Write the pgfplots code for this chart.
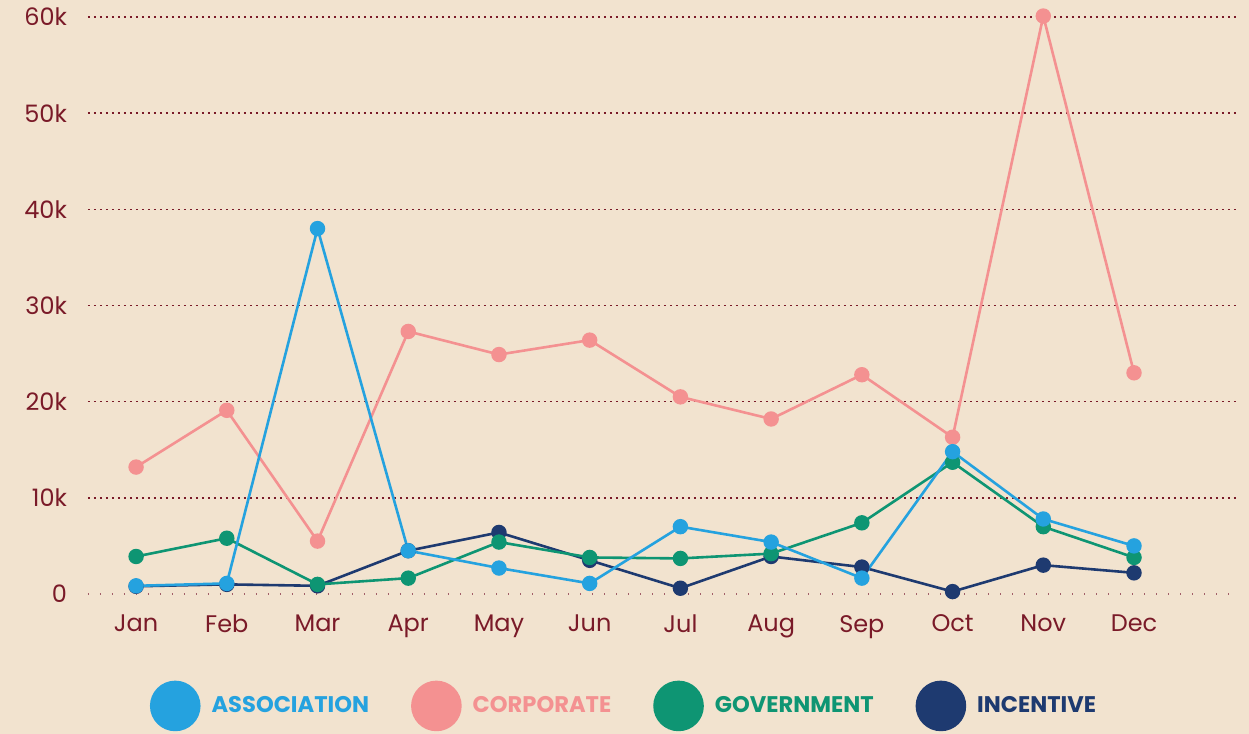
\documentclass[border=0pt]{standalone}
\usepackage{pgfplots}
\pgfplotsset{compat=1.18}
\usepackage{fontspec}
\setmainfont{Poppins}

\definecolor{bgc}{HTML}{F2E3CF}
\definecolor{tickc}{HTML}{7A1A28}
\definecolor{assoc}{HTML}{25A2DF}
\definecolor{corp}{HTML}{F49191}
\definecolor{gov}{HTML}{0E9573}
\definecolor{incent}{HTML}{1E3A70}

% months at 0..11, values in thousands
\pgfplotstableread{
x  assoc corp gov incent
0  0.85  13.2 3.9  0.8
1  1.1   19.1 5.8  1.0
2  38.0  5.5  1.0  0.85
3  4.5   27.3 1.65 4.5
4  2.7   24.9 5.4  6.4
5  1.1   26.4 3.8  3.5
6  7.0   20.5 3.7  0.6
7  5.4   18.2 4.2  3.9
8  1.65  22.8 7.4  2.8
9  14.8  16.3 13.7 0.25
10 7.8   60.1 7.0  3.0
11 5.0   23.0 3.8  2.2
}\datatable

\begin{document}
\begin{tikzpicture}
\path[use as bounding box, fill=bgc] (0,0) rectangle (624.5pt,367pt);
\begin{axis}[
  at={(44pt,70pt)}, anchor=south west,
  scale only axis, width=574.5pt, height=288.5pt,
  xmin=-0.53, xmax=12.135, ymin=0, ymax=60,
  clip=false,
  axis line style={draw=none},
  major tick length=0pt,
  xtick={0,...,11},
  xticklabels={Jan,Feb,Mar,Apr,May,Jun,Jul,Aug,Sep,Oct,Nov,Dec},
  ytick={10,20,...,60},
  yticklabels={10k,20k,30k,40k,50k,60k},
  extra y ticks={0}, extra y tick labels={0},
  extra y tick style={grid style={tickc!70, line width=0.6pt, dash pattern=on 0.6pt off 5.4pt}},
  ymajorgrids,
  grid style={tickc, line width=0.8pt, dash pattern=on 0.8pt off 2.2pt},
  tick label style={font=\fontsize{12}{14}\selectfont, text=tickc},
  yticklabel style={xshift=-7pt},
  xticklabel style={yshift=-7pt},
  every axis plot/.append style={line width=1.3pt, mark=*, mark size=3.2pt},
  reverse legend,
  legend columns=4,
  legend style={at={(rel axis cs:0.4665,-0.194)}, anchor=center, draw=none, fill=none,
    font=\fontsize{11.3}{13}\selectfont\bfseries,
    /tikz/every even column/.style={column sep=20pt},
    nodes={inner sep=1pt}},
  legend image code/.code={\fill (12pt,0pt) circle (12pt); \path (28.5pt,0pt);},
]
\addplot[incent, mark options={fill=incent}] table[x=x,y=incent] {\datatable};
\addlegendentry{\textcolor{incent}{INCENTIVE}}
\addplot[gov, mark options={fill=gov}] table[x=x,y=gov] {\datatable};
\addlegendentry{\textcolor{gov}{GOVERNMENT}}
\addplot[corp, mark options={fill=corp}] table[x=x,y=corp] {\datatable};
\addlegendentry{\textcolor{corp}{CORPORATE}}
\addplot[assoc, mark options={fill=assoc}] table[x=x,y=assoc] {\datatable};
\addlegendentry{\textcolor{assoc}{ASSOCIATION}}
\end{axis}
\end{tikzpicture}
\end{document}
